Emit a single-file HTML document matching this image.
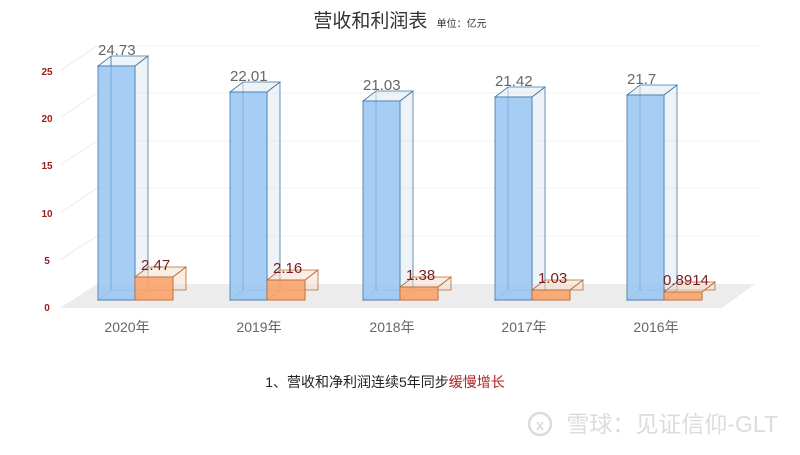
<!DOCTYPE html><html><head><meta charset="utf-8"><style>body{margin:0;background:#fff}svg text{font-family:"Liberation Sans","Noto Sans CJK SC",sans-serif}</style></head><body>
<svg width="800" height="450" xmlns="http://www.w3.org/2000/svg">
<g stroke="#f0f0f0" stroke-width="1" fill="none">
<line x1="97" y1="46" x2="760" y2="46"/><line x1="97" y1="93" x2="760" y2="93"/><line x1="97" y1="141" x2="760" y2="141"/><line x1="97" y1="188" x2="760" y2="188"/><line x1="97" y1="236" x2="760" y2="236"/>
<line x1="60" y1="71" x2="97" y2="46" stroke="#fbe4e4"/><line x1="60" y1="118" x2="97" y2="93" stroke="#fbe4e4"/><line x1="60" y1="165" x2="97" y2="141" stroke="#fbe4e4"/><line x1="60" y1="213" x2="97" y2="188" stroke="#fbe4e4"/><line x1="60" y1="260" x2="97" y2="236" stroke="#fbe4e4"/>
</g>
<polygon points="60,308 722,308 755,284 97,284" fill="#ececec"/>
<g font-size="10" font-weight="bold" fill="#a01c1c" text-anchor="middle">
<text x="47" y="311">0</text><text x="47" y="264">5</text><text x="47" y="217">10</text><text x="47" y="169">15</text><text x="47" y="122">20</text><text x="47" y="75">25</text>
</g>
<text x="400" y="27" font-size="19" fill="#333" text-anchor="middle">营收和利润表 <tspan font-size="10" dx="4">单位：亿元</tspan></text>

<defs>
<style>
.bs{fill:#d8e4ee;fill-opacity:.45;stroke:#3f78a8;stroke-width:.8}
.bf{fill:#9cc8f2;fill-opacity:.9;stroke:#3f78a8;stroke-width:.8}
.os{fill:#f6dcc8;fill-opacity:.5;stroke:#b86a30;stroke-width:.8}
.of{fill:#f9a46c;fill-opacity:.9;stroke:#b86a30;stroke-width:.8}
.bl{font-size:15px;fill:#666}
.ol{font-size:15px;fill:#7a1d1d}
</style>
</defs>

<g transform="translate(98,0)">
<polygon class="bs" points="0,300 13,290 50,290 50,56 37,66 37,300"/>
<polygon class="bs" points="0,66 13,56 50,56 37,66"/>
<line x1="13" y1="290" x2="13" y2="56" stroke="#3f78a8" stroke-width=".8"/>
<rect class="bf" x="0" y="66" width="37" height="234"/>
<line x1="13" y1="290" x2="13" y2="56" stroke="#3f78a8" stroke-width=".6" opacity=".6"/>
<text class="bl" x="0" y="55">24.73</text>
<polygon class="os" points="37,300 50,290 88,290 88,267 75,277 75,300"/>
<polygon class="os" points="37,277 50,267 88,267 75,277"/>
<rect class="of" x="37" y="277" width="38" height="23"/>
<text class="ol" x="43" y="270">2.47</text>
</g>
<g transform="translate(230,0)">
<polygon class="bs" points="0,300 13,290 50,290 50,82 37,92 37,300"/>
<polygon class="bs" points="0,92 13,82 50,82 37,92"/>
<rect class="bf" x="0" y="92" width="37" height="208"/>
<line x1="13" y1="290" x2="13" y2="82" stroke="#3f78a8" stroke-width=".6" opacity=".6"/>
<text class="bl" x="0" y="81">22.01</text>
<polygon class="os" points="37,300 50,290 88,290 88,270 75,280 75,300"/>
<polygon class="os" points="37,280 50,270 88,270 75,280"/>
<rect class="of" x="37" y="280" width="38" height="20"/>
<text class="ol" x="43" y="273">2.16</text>
</g>
<g transform="translate(363,0)">
<polygon class="bs" points="0,300 13,290 50,290 50,91 37,101 37,300"/>
<polygon class="bs" points="0,101 13,91 50,91 37,101"/>
<rect class="bf" x="0" y="101" width="37" height="199"/>
<line x1="13" y1="290" x2="13" y2="91" stroke="#3f78a8" stroke-width=".6" opacity=".6"/>
<text class="bl" x="0" y="90">21.03</text>
<polygon class="os" points="37,300 50,290 88,290 88,277 75,287 75,300"/>
<polygon class="os" points="37,287 50,277 88,277 75,287"/>
<rect class="of" x="37" y="287" width="38" height="13"/>
<text class="ol" x="43" y="280">1.38</text>
</g>
<g transform="translate(495,0)">
<polygon class="bs" points="0,300 13,290 50,290 50,87 37,97 37,300"/>
<polygon class="bs" points="0,97 13,87 50,87 37,97"/>
<rect class="bf" x="0" y="97" width="37" height="203"/>
<line x1="13" y1="290" x2="13" y2="87" stroke="#3f78a8" stroke-width=".6" opacity=".6"/>
<text class="bl" x="0" y="86">21.42</text>
<polygon class="os" points="37,300 50,290 88,290 88,280 75,290 75,300"/>
<polygon class="os" points="37,290 50,280 88,280 75,290"/>
<rect class="of" x="37" y="290" width="38" height="10"/>
<text class="ol" x="43" y="283">1.03</text>
</g>
<g transform="translate(627,0)">
<polygon class="bs" points="0,300 13,290 50,290 50,85 37,95 37,300"/>
<polygon class="bs" points="0,95 13,85 50,85 37,95"/>
<rect class="bf" x="0" y="95" width="37" height="205"/>
<line x1="13" y1="290" x2="13" y2="85" stroke="#3f78a8" stroke-width=".6" opacity=".6"/>
<text class="bl" x="0" y="84">21.7</text>
<polygon class="os" points="37,300 50,290 88,290 88,282 75,292 75,300"/>
<polygon class="os" points="37,292 50,282 88,282 75,292"/>
<rect class="of" x="37" y="292" width="38" height="8"/>
<text class="ol" x="36" y="285">0.8914</text>
</g>

<g font-size="14" fill="#666" text-anchor="middle">
<text x="127" y="332">2020年</text><text x="259" y="332">2019年</text><text x="392" y="332">2018年</text><text x="524" y="332">2017年</text><text x="656" y="332">2016年</text>
</g>
<text x="385" y="387" font-size="14" fill="#222" text-anchor="middle">1、营收和净利润连续5年同步<tspan fill="#b22222">缓慢增长</tspan></text>
<circle cx="540" cy="424" r="11" fill="none" stroke="#dcdcdc" stroke-width="2.5"/>
<text x="540" y="430" font-size="15" fill="#dcdcdc" text-anchor="middle" font-weight="bold">x</text>
<text x="778" y="432" font-size="23" fill="#dcdcdc" text-anchor="end">雪球：见证信仰-GLT</text>
</svg></body></html>
